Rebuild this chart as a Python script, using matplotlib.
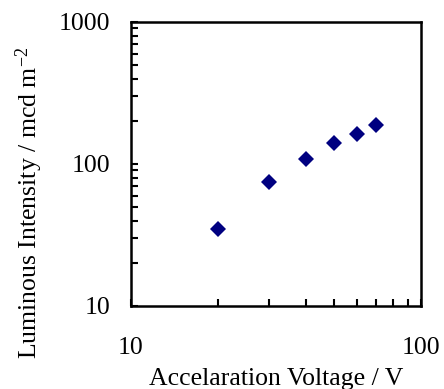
import matplotlib
matplotlib.use("Agg")
import matplotlib.pyplot as plt
from matplotlib.ticker import LogLocator, NullFormatter, FixedLocator, FixedFormatter

voltage = [20, 30, 40, 50, 60, 70]
intensity = [35, 75, 109, 140, 162, 187]
xtick_labels = ["10", "100"]
ytick_labels = ["10", "100", "1000"]

plt.rcParams['font.family'] = ['Liberation Serif', 'DejaVu Serif']
plt.rcParams['mathtext.fontset'] = 'custom'
plt.rcParams['mathtext.rm'] = 'Liberation Serif'
plt.rcParams['mathtext.it'] = 'Liberation Serif:italic'

fig = plt.figure(figsize=(4.44, 3.89), dpi=100)
ax = fig.add_axes([131/444, 1 - 306/389, 290/444, 284/389])

ax.plot(voltage, intensity, 'D', color='#000080', markersize=8, markeredgewidth=0)

ax.set_xscale('log')
ax.set_yscale('log')
ax.set_xlim(10, 100)
ax.set_ylim(10, 1000)

ax.xaxis.set_major_locator(FixedLocator([10, 100]))
ax.xaxis.set_major_formatter(FixedFormatter(xtick_labels))
ax.yaxis.set_major_locator(FixedLocator([10, 100, 1000]))
ax.yaxis.set_major_formatter(FixedFormatter(ytick_labels))
ax.xaxis.set_minor_locator(LogLocator(base=10, subs=range(2, 10)))
ax.yaxis.set_minor_locator(LogLocator(base=10, subs=range(2, 10)))
ax.xaxis.set_minor_formatter(NullFormatter())
ax.yaxis.set_minor_formatter(NullFormatter())

for s in ax.spines.values():
    s.set_linewidth(1.8)

ax.tick_params(which='both', direction='in', top=False, right=False, width=1.5)
ax.tick_params(which='major', length=5)
ax.tick_params(which='minor', length=5)
ax.tick_params(axis='x', which='major', pad=22, labelsize=18.5)
ax.tick_params(axis='y', which='major', pad=15, labelsize=18.5)

ax.set_xlabel('Accelaration Voltage / V', fontsize=18.5, labelpad=7)
ax.set_ylabel(r'Luminous Intensity / mcd m$^{-2}$', fontsize=18.5)
ax.yaxis.set_label_coords(-0.296, 0.363)

fig.savefig('out.png', dpi=100)
